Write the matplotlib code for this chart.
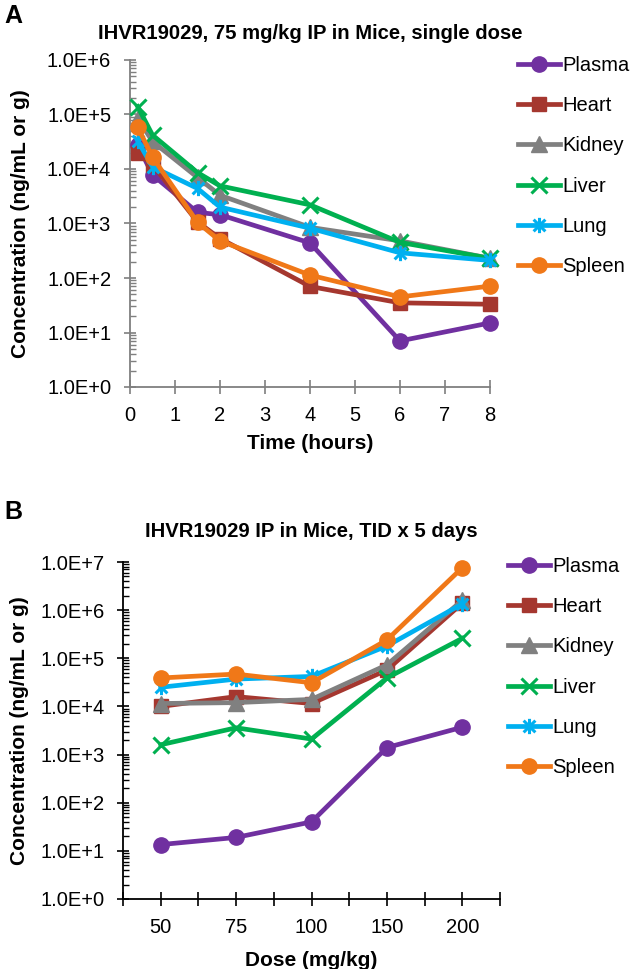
import matplotlib
matplotlib.use("Agg")
import matplotlib.pyplot as plt
from matplotlib.ticker import FixedLocator, LogLocator, NullFormatter, FuncFormatter
from matplotlib.path import Path
import numpy as np

plt.rcParams['font.family'] = ['Liberation Sans', 'DejaVu Sans']

# ---- Data: panel A (single dose time course) ----
time_h = [0.17, 0.5, 1.5, 2, 4, 6, 8]
a_plasma = [2.8e4, 7.8e3, 1.6e3, 1.45e3, 4.4e2, 7.0, 15.0]
a_heart = [2.0e4, 1.2e4, 1.07e3, 5.3e2, 70, 35, 33]
a_kidney = [8.5e4, 3.2e4, 7.0e3, 3.3e3, 8.5e2, 4.8e2, 2.3e2]
a_liver = [1.4e5, 4.2e4, 8.6e3, 4.9e3, 2.2e3, 4.5e2, 2.3e2]
a_lung = [3.3e4, 1.1e4, 4.4e3, 2.0e3, 8.2e2, 2.9e2, 2.1e2]
a_spleen = [5.9e4, 1.65e4, 1.05e3, 4.8e2, 1.13e2, 45, 71]

# ---- Data: panel B (TID x 5 days, dose response) ----
dose_labels = ["50", "75", "100", "150", "200"]
b_plasma = [13.5, 19, 40, 1.4e3, 3.7e3]
b_heart = [1.0e4, 1.6e4, 1.15e4, 5.7e4, 1.4e6]
b_kidney = [1.15e4, 1.2e4, 1.4e4, 7.3e4, 1.6e6]
b_liver = [1.6e3, 3.6e3, 2.1e3, 3.9e4, 2.6e5]
b_lung = [2.5e4, 3.7e4, 4.2e4, 1.8e5, 1.35e6]
b_spleen = [3.9e4, 4.7e4, 3.1e4, 2.4e5, 7.6e6]

names = ["Plasma", "Heart", "Kidney", "Liver", "Lung", "Spleen"]
colors = ["#7030A0", "#A5372F", "#808080", "#00B050", "#00B0F0", "#F07818"]

# Excel-style star: an X plus a vertical bar
star = Path([(-1, -1), (1, 1), (-1, 1), (1, -1), (0, -1.3), (0, 1.3)],
            [Path.MOVETO, Path.LINETO, Path.MOVETO, Path.LINETO, Path.MOVETO, Path.LINETO])
markers = ["o", "s", "^", "x", star, "o"]
msizes = [11, 10, 11, 11, 11, 11]
mews = [1, 1, 1, 2.2, 2.2, 1]

W, H = 635, 969
fig = plt.figure(figsize=(W / 100, H / 100), dpi=100)

def fbox(l, r, t, b):
    return [l / W, 1 - b / H, (r - l) / W, (b - t) / H]

def sci(v, pos):
    e = int(round(np.log10(v)))
    return "1.0E+%d" % e

def draw(ax, x, series, axis_color):
    hs = []
    for s, n, c, m, ms, mew in zip(series, names, colors, markers, msizes, mews):
        h, = ax.plot(x, s, color=c, lw=3.4, marker=m, ms=ms, mec=c, mfc=c,
                     mew=mew, label=n, clip_on=False, zorder=3)
        hs.append(h)
    ax.set_yscale('log')
    for sp in ('top', 'right'):
        ax.spines[sp].set_visible(False)
    for sp in ('left', 'bottom'):
        ax.spines[sp].set_color(axis_color)
        ax.spines[sp].set_linewidth(1.3)
    ax.yaxis.set_major_formatter(FuncFormatter(sci))
    ax.yaxis.set_minor_locator(LogLocator(base=10, subs=np.arange(2, 10)))
    ax.yaxis.set_minor_formatter(NullFormatter())
    ax.tick_params(axis='y', which='major', direction='inout', length=9,
                   width=1.2, color=axis_color, labelsize=14.5, pad=9)
    ax.tick_params(axis='y', which='minor', direction='in', length=4,
                   width=1.0, color=axis_color)
    ax.tick_params(axis='x', which='both', direction='inout', length=10,
                   width=1.2, color=axis_color, labelsize=14.5, pad=9)
    return hs

LBL = dict(fontsize=15, fontweight='bold')
TTL = dict(fontsize=14.6, fontweight='bold')
LEG = dict(frameon=False, fontsize=14.5, handlelength=2.1, handletextpad=0.1,
           labelspacing=1.06, borderpad=0, borderaxespad=0, loc='center left')

# ---- Panel A ----
axA = fig.add_axes(fbox(130, 490, 60, 387))
hsA = draw(axA, time_h, [a_plasma, a_heart, a_kidney, a_liver, a_lung, a_spleen], "#7F7F7F")
axA.set_xlim(0, 8)
axA.set_ylim(1, 1e6)
axA.set_yticks([10.0 ** k for k in range(0, 7)])
axA.set_xticks(range(0, 9))
axA.set_xlabel("Time (hours)", labelpad=6, **LBL)
axA.set_ylabel("Concentration (ng/mL or g)", labelpad=12, **LBL)
axA.set_title("IHVR19029, 75 mg/kg IP in Mice, single dose", pad=15, **TTL)
fig.text(4 / W, 1 - 16 / H, "A", fontsize=18, fontweight='bold', va='center', ha='left')
fig.legend(handles=hsA, bbox_to_anchor=(518 / W, 1 - 166 / H), **LEG)

# ---- Panel B ----
axB = fig.add_axes(fbox(123, 500, 562, 899))
xb = np.arange(len(dose_labels))
hsB = draw(axB, xb, [b_plasma, b_heart, b_kidney, b_liver, b_lung, b_spleen], "black")
axB.set_xlim(-0.5, len(dose_labels) - 0.5)
axB.set_ylim(1, 1e7)
axB.set_yticks([10.0 ** k for k in range(0, 8)])
axB.xaxis.set_major_locator(FixedLocator(xb))
axB.set_xticklabels(dose_labels)
axB.xaxis.set_minor_locator(FixedLocator(np.arange(-0.5, len(dose_labels), 1.0)))
axB.tick_params(axis='x', which='minor', direction='inout', length=10, width=1.2, color='black')
axB.set_xlabel("Dose (mg/kg)", labelpad=10, **LBL)
axB.set_ylabel("Concentration (ng/mL or g)", labelpad=8, **LBL)
axB.set_title("IHVR19029 IP in Mice, TID x 5 days", pad=18, **TTL)
fig.text(4 / W, 1 - 512 / H, "B", fontsize=18, fontweight='bold', va='center', ha='left')
fig.legend(handles=hsB, bbox_to_anchor=(508 / W, 1 - 667 / H), **LEG)

fig.savefig("out.png", dpi=100)
